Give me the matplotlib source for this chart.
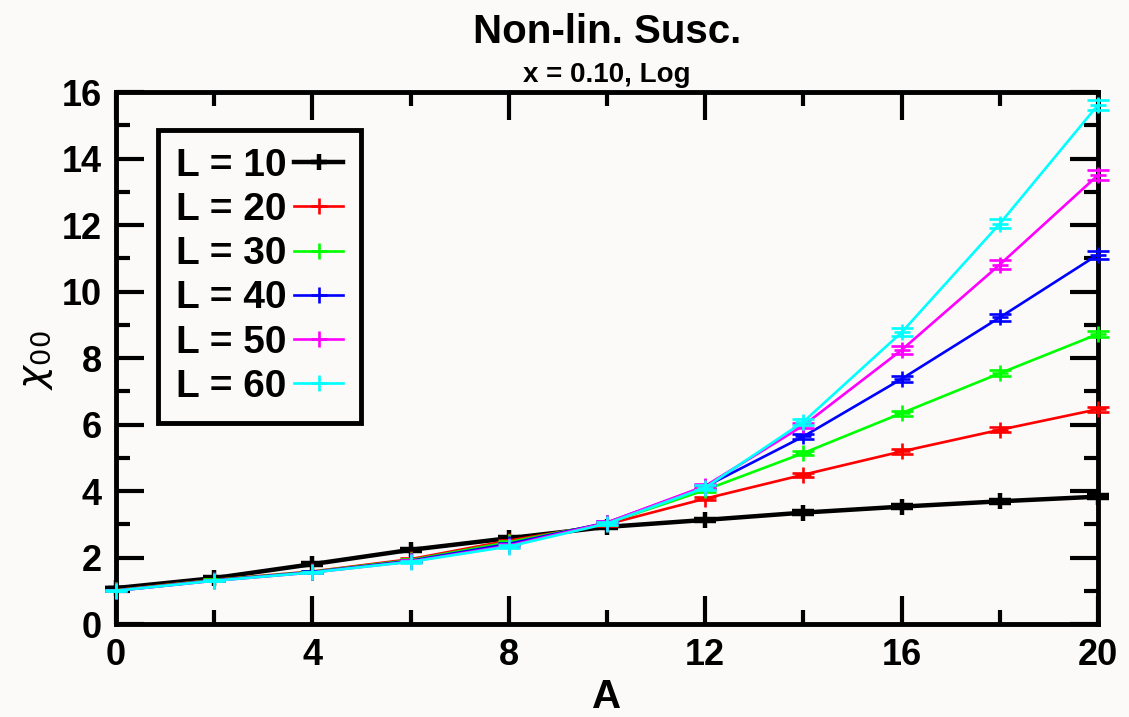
import matplotlib
matplotlib.use("Agg")
import matplotlib.pyplot as plt
from matplotlib.ticker import MultipleLocator

plt.rcParams['font.family'] = ['Liberation Sans', 'DejaVu Sans']
plt.rcParams['mathtext.fontset'] = 'dejavusans'

# ---- data ----
A = [0, 2, 4, 6, 8, 10, 12, 14, 16, 18, 20]
labels = ["L = 10", "L = 20", "L = 30", "L = 40", "L = 50", "L = 60"]
colors = ["#000000", "#ff0000", "#00ff00", "#0000ff", "#ff00ff", "#00ffff"]

chi_L10 = [1.08, 1.38, 1.80, 2.23, 2.58, 2.92, 3.13, 3.35, 3.53, 3.69, 3.83]
chi_L20 = [1.02, 1.33, 1.58, 1.95, 2.51, 3.00, 3.77, 4.49, 5.19, 5.84, 6.46]
chi_L30 = [1.01, 1.32, 1.57, 1.92, 2.46, 3.03, 4.03, 5.14, 6.34, 7.54, 8.72]
chi_L40 = [1.00, 1.31, 1.56, 1.90, 2.41, 3.05, 4.13, 5.64, 7.37, 9.22, 11.11]
chi_L50 = [1.00, 1.30, 1.55, 1.88, 2.36, 3.05, 4.15, 5.97, 8.24, 10.81, 13.50]
chi_L60 = [1.00, 1.30, 1.55, 1.87, 2.33, 3.02, 4.10, 6.08, 8.77, 12.04, 15.61]

err_L10 = [0.01, 0.02, 0.03, 0.03, 0.04, 0.04, 0.04, 0.05, 0.05, 0.05, 0.05]
err_L20 = [0.01, 0.02, 0.02, 0.03, 0.03, 0.04, 0.05, 0.06, 0.07, 0.08, 0.08]
err_L30 = [0.01, 0.02, 0.02, 0.03, 0.03, 0.05, 0.06, 0.07, 0.08, 0.09, 0.10]
err_L40 = [0.01, 0.02, 0.02, 0.03, 0.04, 0.05, 0.06, 0.08, 0.10, 0.11, 0.12]
err_L50 = [0.01, 0.02, 0.02, 0.03, 0.04, 0.05, 0.07, 0.09, 0.12, 0.14, 0.15]
err_L60 = [0.01, 0.02, 0.02, 0.03, 0.04, 0.05, 0.07, 0.10, 0.12, 0.13, 0.14]

series = [chi_L10, chi_L20, chi_L30, chi_L40, chi_L50, chi_L60]
errors = [err_L10, err_L20, err_L30, err_L40, err_L50, err_L60]

xticks = [0, 4, 8, 12, 16, 20]
yticks = [0, 2, 4, 6, 8, 10, 12, 14, 16]

bg = "#fbfaf9"
fig = plt.figure(figsize=(11.29, 7.17), dpi=100, facecolor=bg)
W, H = 1129, 717
left, right, top, bottom = 116, 1098, 92, 624
ax = fig.add_axes([left / W, 1 - bottom / H, (right - left) / W, (bottom - top) / H])
ax.set_facecolor(bg)

handles = []
for i, (y, e, c, lab) in enumerate(zip(series, errors, colors, labels)):
    lw = 3.2 if i == 0 else 1.9
    mew = 3.2 if i == 0 else 1.9
    eb = ax.errorbar(A, y, yerr=e, color=c, lw=lw, marker='+', ms=12, mew=mew,
                     capsize=8, capthick=mew, elinewidth=mew, label=lab,
                     clip_on=False, zorder=3 + i)
    handles.append(eb.lines[0])

ax.set_xlim(0, 20)
ax.set_ylim(0, 16)
ax.set_xticks(xticks)
ax.set_yticks(yticks)
ax.xaxis.set_minor_locator(MultipleLocator(2))
ax.yaxis.set_minor_locator(MultipleLocator(1))
ax.tick_params(which='both', direction='in', top=True, right=True, width=3)
ax.tick_params(which='major', length=20)
ax.tick_params(which='minor', length=10)
ax.tick_params(axis='x', which='major', pad=10, labelsize=26)
ax.tick_params(axis='y', which='major', pad=10, labelsize=26)
for lab in ax.get_xticklabels() + ax.get_yticklabels():
    lab.set_fontweight('bold')
for s in ax.spines.values():
    s.set_linewidth(3.5)

fig.text(607 / W, 1 - 32 / H, "Non-lin. Susc.", ha='center', va='center',
         fontsize=29, fontweight='bold')
fig.text(607 / W, 1 - 75 / H, "x = 0.10, Log", ha='center', va='center',
         fontsize=20, fontweight='bold')
fig.text(607 / W, 1 - 697 / H, "A", ha='center', va='center',
         fontsize=29, fontweight='bold')
fig.text(37 / W, 1 - 360 / H, r"$\chi_{00}$", ha='center', va='center',
         fontsize=28, rotation=90)

leg = ax.legend(handles=handles, labels=labels, loc='upper left',
                bbox_to_anchor=(158 / W, 1 - 130 / H),
                bbox_transform=fig.transFigure, markerfirst=False,
                fancybox=False, framealpha=1, edgecolor='black',
                facecolor=bg, prop={'weight': 'bold', 'size': 28},
                handlelength=1.25, handletextpad=0.2, labelspacing=0.21,
                borderpad=0.46, borderaxespad=0)
leg.get_frame().set_linewidth(3.5)

fig.savefig("out.png", dpi=100, facecolor=bg)
